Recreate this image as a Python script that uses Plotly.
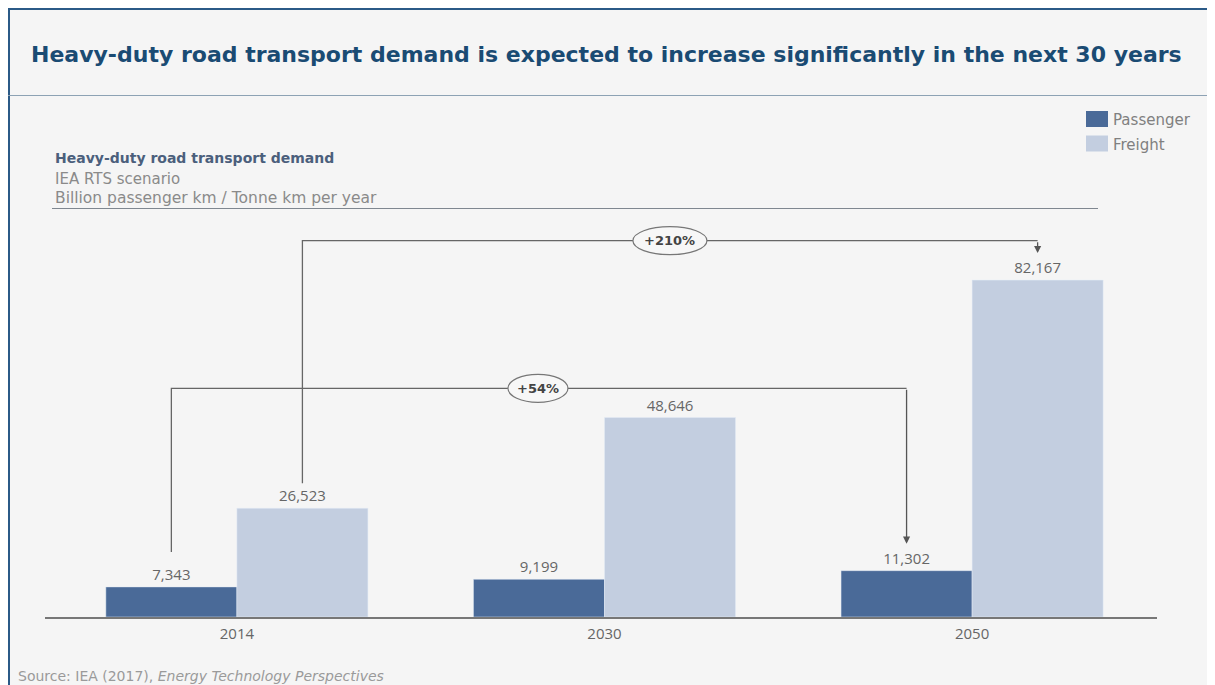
import plotly.graph_objects as go

years = ["2014", "2030", "2050"]
passenger = [7343, 9199, 11302]
freight = [26523, 48646, 82167]
series_names = ["Passenger", "Freight"]
growth_labels = ["+54%", "+210%"]

# the page adds an 8px body margin; work in page pixels and convert
OFF = 8
W, H = 1215 - OFF, 685 - OFF
PLOT_L, PLOT_R, PLOT_T, PLOT_B = 45, 1157, 207, 617  # page pixels
ML, MR, MT, MB = PLOT_L - OFF, W - (PLOT_R - OFF), PLOT_T - OFF, H - (PLOT_B - OFF)
PW = W - ML - MR
PH = H - MT - MB
YMAX = 100000
XR = [-0.522, 2.503]


def px_x(p):
    return (p - OFF - ML) / PW


def px_y(p):
    return (H - MB - (p - OFF)) / PH


def unit_y(pixels):
    return pixels * YMAX / PH


def unit_x(pixels):
    return pixels * (XR[1] - XR[0]) / PW


NUMF = "Open Sans"
TXTF = "DejaVu Sans"
C_PASS = "#4A6A98"
C_FREI = "#C3CEE0"
GREY = "#666666"

xs = list(range(len(years)))
fig = go.Figure()
fig.add_trace(go.Bar(x=xs, y=passenger, name=series_names[0], marker_color=C_PASS,
                     text=passenger, texttemplate="%{y:,}", textposition="outside",
                     textfont=dict(color=GREY, size=15, family=NUMF), cliponaxis=False))
fig.add_trace(go.Bar(x=xs, y=freight, name=series_names[1], marker_color=C_FREI,
                     text=freight, texttemplate="%{y:,}", textposition="outside",
                     textfont=dict(color=GREY, size=15, family=NUMF), cliponaxis=False))

bargap = 0.287
off = (1 - bargap) / 4

shapes = []
annotations = []

# frame
shapes.append(dict(type="line", xref="paper", yref="paper", x0=px_x(OFF), x1=px_x(1220),
                   y0=px_y(OFF + 1), y1=px_y(OFF + 1), line=dict(color="#2B5A87", width=2)))
shapes.append(dict(type="line", xref="paper", yref="paper", x0=px_x(OFF + 1), x1=px_x(OFF + 1),
                   y0=px_y(OFF), y1=px_y(700), line=dict(color="#2B5A87", width=2)))
shapes.append(dict(type="line", xref="paper", yref="paper", x0=px_x(OFF), x1=px_x(1220),
                   y0=px_y(95.5), y1=px_y(95.5), line=dict(color="#8DA2B4", width=1)))
shapes.append(dict(type="line", xref="paper", yref="paper", x0=px_x(52), x1=px_x(1098),
                   y0=px_y(208.5), y1=px_y(208.5), line=dict(color="#7F8790", width=1)))


def series_off(s):
    return -off if s == 0 else off


def bracket(s, start_pad, tip_pad, level_px, label, label_x, label_w):
    vals = passenger if s == 0 else freight
    x0 = xs[0] + series_off(s)
    x1 = xs[-1] + series_off(s)
    level = unit_y(PLOT_B - level_px)
    y_start = vals[0] + unit_y(start_pad)
    y_tip = vals[-1] + unit_y(tip_pad)
    shapes.append(dict(type="path", xref="x", yref="y",
                       path=f"M {x0},{y_start} L {x0},{level} L {x1},{level}",
                       line=dict(color=GREY, width=1.3)))
    annotations.append(dict(x=x1, y=y_tip, ax=x1, ay=level, xref="x", yref="y",
                            axref="x", ayref="y", text="", showarrow=True, arrowhead=2,
                            arrowsize=1.1, arrowwidth=1.3, arrowcolor="#555555"))
    hw = unit_x(label_w) / 2
    hh = unit_y(14)
    shapes.append(dict(type="circle", xref="x", yref="y", x0=label_x - hw, x1=label_x + hw,
                       y0=level - hh, y1=level + hh, fillcolor="#F7F7F7",
                       line=dict(color="#777777", width=1.2)))
    annotations.append(dict(x=label_x, y=level, xref="x", yref="y", text=f"<b>{label}</b>",
                            showarrow=False, font=dict(family=TXTF, size=13, color="#444444")))


bracket(0, 35, 27, 388.3, growth_labels[0], 0.819, 60)
bracket(1, 25, 27, 240.7, growth_labels[1], 1.178, 74)

# legend (drawn)
for i, (nm, col) in enumerate(zip(series_names, [C_PASS, C_FREI])):
    yc = 119 + 24.5 * i
    shapes.append(dict(type="rect", xref="paper", yref="paper", x0=px_x(1086), x1=px_x(1108),
                       y0=px_y(yc + 8), y1=px_y(yc - 8), fillcolor=col, line=dict(width=0)))
    annotations.append(dict(xref="paper", yref="paper", x=px_x(1111), y=px_y(yc + 1), text=nm,
                            showarrow=False, xanchor="left", yanchor="middle",
                            font=dict(family=TXTF, size=15, color="#808080")))

# texts
annotations.append(dict(xref="paper", yref="paper", x=px_x(606), y=px_y(55),
                        text="<b>Heavy-duty road transport demand is expected to increase significantly in the next 30 years</b>",
                        showarrow=False, xanchor="center", yanchor="middle",
                        font=dict(family=TXTF, size=22, color="#1A4B73")))
annotations.append(dict(xref="paper", yref="paper", x=px_x(53), y=px_y(158),
                        text="<b>Heavy-duty road transport demand</b>", showarrow=False,
                        xanchor="left", yanchor="middle", font=dict(family=TXTF, size=14, color="#4B5F7C")))
annotations.append(dict(xref="paper", yref="paper", x=px_x(53), y=px_y(179),
                        text="IEA RTS scenario", showarrow=False,
                        xanchor="left", yanchor="middle", font=dict(family=TXTF, size=15, color="#8A8A8A")))
annotations.append(dict(xref="paper", yref="paper", x=px_x(53), y=px_y(198),
                        text="Billion passenger km / Tonne km per year", showarrow=False,
                        xanchor="left", yanchor="middle", font=dict(family=TXTF, size=15.5, color="#8A8A8A")))
annotations.append(dict(xref="paper", yref="paper", x=px_x(16), y=px_y(676),
                        text="Source: IEA (2017), <i>Energy Technology Perspectives</i>", showarrow=False,
                        xanchor="left", yanchor="middle", font=dict(family=TXTF, size=14, color="#9A9A9A")))

fig.update_layout(
    width=W, height=H,
    margin=dict(l=ML, r=MR, t=MT, b=MB, autoexpand=False),
    paper_bgcolor="#F5F5F5", plot_bgcolor="rgba(0,0,0,0)",
    barmode="group", bargap=bargap, bargroupgap=0,
    font=dict(family=NUMF, color=GREY),
    showlegend=False,
    xaxis=dict(range=XR, tickvals=xs, ticktext=years, showgrid=False, zeroline=False,
               showline=True, linecolor="#777777", linewidth=1.5,
               ticks="outside", ticklen=2, tickcolor="rgba(0,0,0,0)",
               tickfont=dict(size=15, color="#666666", family=NUMF)),
    yaxis=dict(range=[0, YMAX], visible=False, showgrid=False, zeroline=False),
    shapes=shapes, annotations=annotations,
)

fig.write_html("out.html")
